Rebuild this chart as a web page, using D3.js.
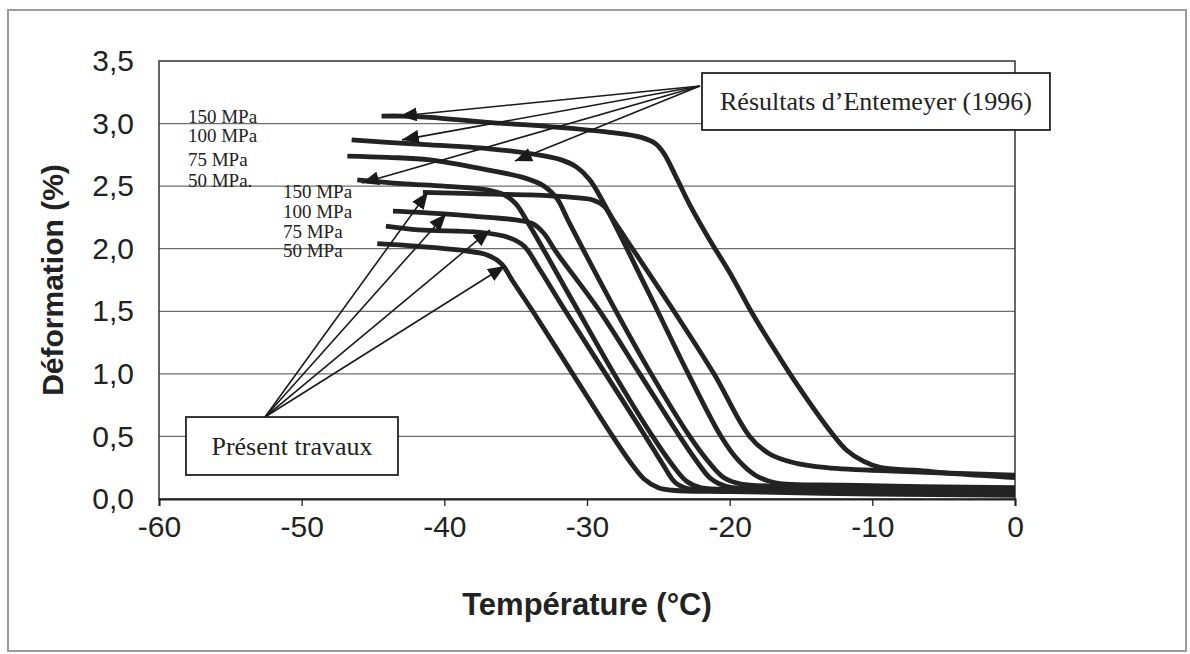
<!DOCTYPE html>
<html><head><meta charset="utf-8">
<script src="https://cdn.jsdelivr.net/npm/d3@7"></script>
<style>
html,body{margin:0;padding:0;background:#fff;}
svg{display:block;}
</style></head>
<body><svg id="chart" width="1190" height="654"></svg>
<script>
// ---------- data ----------
const xTicks = [-60, -50, -40, -30, -20, -10, 0];
const yTicks = [0, 0.5, 1, 1.5, 2, 2.5, 3, 3.5];
const xTitle = "Température (°C)";
const yTitle = "Déformation (%)";

// [température °C, déformation %]
const entemeyer150 = [[-44.4,3.06],[-43,3.06],[-41,3.05],[-37,3.01],[-33,2.98],[-28.4,2.93],[-26.2,2.89],[-25.2,2.84],[-24.6,2.76],[-23.7,2.56],[-22.7,2.33],[-21.4,2.07],[-20.0,1.81],[-18.4,1.48],[-17.0,1.22],[-15.6,0.97],[-13.0,0.55],[-11.8,0.39],[-10.6,0.30],[-9.4,0.25],[-7,0.23],[-4,0.20],[0,0.17]];
const entemeyer100 = [[-46.5,2.87],[-44,2.85],[-41,2.83],[-37,2.80],[-34,2.76],[-31.8,2.71],[-30.7,2.65],[-29.8,2.55],[-28.9,2.38],[-25.6,1.63],[-22.9,1.0],[-20.6,0.5],[-19.4,0.31],[-18.2,0.19],[-16.8,0.13],[-12,0.11],[0,0.09]];
const entemeyer75 = [[-46.8,2.74],[-44,2.73],[-41,2.71],[-37,2.63],[-34.5,2.57],[-33,2.50],[-32.1,2.40],[-31.3,2.22],[-28.2,1.55],[-25.5,1.0],[-22.8,0.5],[-21.5,0.3],[-20.4,0.17],[-19.2,0.12],[-14,0.10],[0,0.08]];
const entemeyer50 = [[-46.1,2.55],[-43,2.52],[-40,2.50],[-37,2.47],[-35.8,2.43],[-35.0,2.36],[-34.2,2.22],[-31.0,1.58],[-28.1,1.0],[-25.4,0.5],[-24.0,0.27],[-23,0.14],[-22,0.09],[-18,0.08],[0,0.05]];
const present150 = [[-41.5,2.45],[-38,2.44],[-34,2.43],[-31,2.41],[-29.6,2.39],[-28.8,2.34],[-28.1,2.22],[-23.9,1.5],[-21.1,1.0],[-18.6,0.5],[-17.2,0.36],[-15.5,0.29],[-13.2,0.25],[-8,0.22],[0,0.19]];
const present100 = [[-43.6,2.30],[-41.7,2.29],[-38,2.26],[-35,2.23],[-33.8,2.20],[-33.0,2.12],[-32.2,1.98],[-29.1,1.5],[-26.3,1.0],[-23.5,0.5],[-22.3,0.3],[-21.3,0.16],[-20.2,0.10],[-15,0.08],[0,0.06]];
const present75 = [[-44.1,2.18],[-41.8,2.15],[-37.5,2.13],[-35.5,2.09],[-34.4,2.02],[-33.4,1.85],[-31.5,1.5],[-28.7,1.0],[-25.9,0.5],[-24.7,0.28],[-23.8,0.13],[-22.8,0.08],[-20,0.07],[0,0.04]];
const present50 = [[-44.7,2.04],[-42,2.02],[-39,1.99],[-37,1.95],[-36,1.88],[-35.2,1.74],[-33.8,1.5],[-31.0,1.0],[-28.2,0.5],[-27,0.3],[-26,0.16],[-25,0.09],[-24,0.07],[-20,0.06],[-10,0.04],[0,0.03]];

const entemeyerLabels = ["150 MPa", "100 MPa", "75 MPa", "50 MPa."];
const presentLabels = ["150 MPa", "100 MPa", "75 MPa", "50 MPa"];
const entemeyerBoxText = "Résultats d’Entemeyer (1996)";
const presentBoxText = "Présent travaux";

// ---------- layout (not data) ----------
const plot = {left: 159, right: 1015, top: 61, bottom: 499};
// annotation anchors, in data units
const entLabelPos = {t: -57.97, v: [3.005, 2.853, 2.661, 2.493]};
const preLabelPos = {t: -51.31, v: [2.405, 2.245, 2.086, 1.934]};
const entArrowFrom = [-22.08, 3.30];
const entArrowTo = [[-43.11, 3.06], [-42.97, 2.87], [-35.05, 2.70], [-45.77, 2.525]];
const preArrowFrom = [-52.57, 0.655];
const preArrowTo = [[-41.15, 2.453], [-39.88, 2.277], [-36.80, 2.15], [-35.75, 1.862]];
const entBox = {t0: -21.94, t1: 2.45, v0: 3.404, v1: 2.949};
const preBox = {t0: -58.11, t1: -43.25, v0: 0.655, v1: 0.192};

const svg = d3.select("#chart");
const x = d3.scaleLinear().domain([-60, 0]).range([plot.left, plot.right]);
const y = d3.scaleLinear().domain([0, 3.5]).range([plot.bottom, plot.top]);

const sans = "'Liberation Sans', Arial, sans-serif";
const serif = "'Liberation Serif', 'Times New Roman', serif";

// outer chart frame
svg.append("rect").attr("x", 8).attr("y", 10).attr("width", 1178).attr("height", 641)
  .attr("fill", "#fff").attr("stroke", "#9c9c9c").attr("stroke-width", 2);

// gridlines
svg.append("g").selectAll("line").data(yTicks.filter(d => d > 0 && d < 3.5)).join("line")
  .attr("x1", x(-60)).attr("x2", x(0)).attr("y1", d => y(d)).attr("y2", d => y(d))
  .attr("stroke", "#6e6e6e").attr("stroke-width", 1.3);

// plot border
svg.append("rect").attr("x", x(-60)).attr("y", y(3.5))
  .attr("width", x(0) - x(-60)).attr("height", y(0) - y(3.5))
  .attr("fill", "none").attr("stroke", "#333").attr("stroke-width", 1.5);

// x axis
const xAxis = d3.axisBottom(x).tickValues(xTicks).tickSize(7).tickPadding(10).tickFormat(d => String(d));
const gx = svg.append("g").attr("transform", `translate(0,${plot.bottom})`).call(xAxis);
gx.select(".domain").attr("stroke", "#222").attr("stroke-width", 2);
gx.selectAll(".tick line").attr("stroke", "#222").attr("stroke-width", 1.3);
gx.selectAll(".tick text").attr("font-family", sans).attr("font-size", 30).attr("fill", "#222").attr("dy", "0.71em");

// y axis labels
const yAxis = d3.axisLeft(y).tickValues(yTicks).tickSize(0).tickPadding(25)
  .tickFormat(d => d3.format(".1f")(d).replace(".", ","));
const gy = svg.append("g").attr("transform", `translate(${plot.left},0)`).call(yAxis);
gy.select(".domain").remove();
gy.selectAll(".tick text").attr("font-family", sans).attr("font-size", 30).attr("fill", "#222");

// titles
svg.append("text").attr("x", (plot.left + plot.right) / 2).attr("y", 615)
  .attr("text-anchor", "middle").attr("font-family", sans).attr("font-weight", "bold")
  .attr("font-size", 31).attr("fill", "#222").text(xTitle);
svg.append("text").attr("transform", `translate(63,${(plot.top + plot.bottom) / 2}) rotate(-90)`)
  .attr("text-anchor", "middle").attr("font-family", sans).attr("font-weight", "bold")
  .attr("font-size", 30).attr("fill", "#222").text(yTitle);

// curves
const series = [entemeyer150, entemeyer100, entemeyer75, entemeyer50, present150, present100, present75, present50];
const line = d3.line().x(d => x(d[0])).y(d => y(d[1])).curve(d3.curveCatmullRom.alpha(0.5));
svg.append("g").selectAll("path").data(series).join("path")
  .attr("d", line).attr("fill", "none").attr("stroke", "#232323")
  .attr("stroke-width", 4.8).attr("stroke-linejoin", "round").attr("stroke-linecap", "butt");

// curve labels
svg.append("g").selectAll("text").data(entemeyerLabels).join("text")
  .attr("x", x(entLabelPos.t)).attr("y", (d, i) => y(entLabelPos.v[i]))
  .attr("font-family", serif).attr("font-size", 19).attr("fill", "#222").text(d => d);
svg.append("g").selectAll("text").data(presentLabels).join("text")
  .attr("x", x(preLabelPos.t)).attr("y", (d, i) => y(preLabelPos.v[i]))
  .attr("font-family", serif).attr("font-size", 19).attr("fill", "#222").text(d => d);

// arrows
svg.append("defs").append("marker").attr("id", "ah")
  .attr("markerUnits", "userSpaceOnUse").attr("markerWidth", 18).attr("markerHeight", 14)
  .attr("refX", 17).attr("refY", 7).attr("orient", "auto")
  .append("path").attr("d", "M0,0 L17,7 L0,14 Z").attr("fill", "#1a1a1a");

function arrows(from, tos) {
  svg.append("g").selectAll("line").data(tos).join("line")
    .attr("x1", x(from[0])).attr("y1", y(from[1]))
    .attr("x2", d => x(d[0])).attr("y2", d => y(d[1]))
    .attr("stroke", "#1a1a1a").attr("stroke-width", 1.6).attr("marker-end", "url(#ah)");
}
arrows(entArrowFrom, entArrowTo);
arrows(preArrowFrom, preArrowTo);

// boxes
function box(b, txt) {
  const g = svg.append("g");
  g.append("rect").attr("x", x(b.t0)).attr("y", y(b.v0))
    .attr("width", x(b.t1) - x(b.t0)).attr("height", y(b.v1) - y(b.v0))
    .attr("fill", "#fff").attr("stroke", "#222").attr("stroke-width", 1.8);
  g.append("text").attr("x", (x(b.t0) + x(b.t1)) / 2).attr("y", (y(b.v0) + y(b.v1)) / 2)
    .attr("dy", "0.33em").attr("text-anchor", "middle")
    .attr("font-family", serif).attr("font-size", 26).attr("fill", "#222").text(txt);
}
box(entBox, entemeyerBoxText);
box(preBox, presentBoxText);
</script>
</body></html>
